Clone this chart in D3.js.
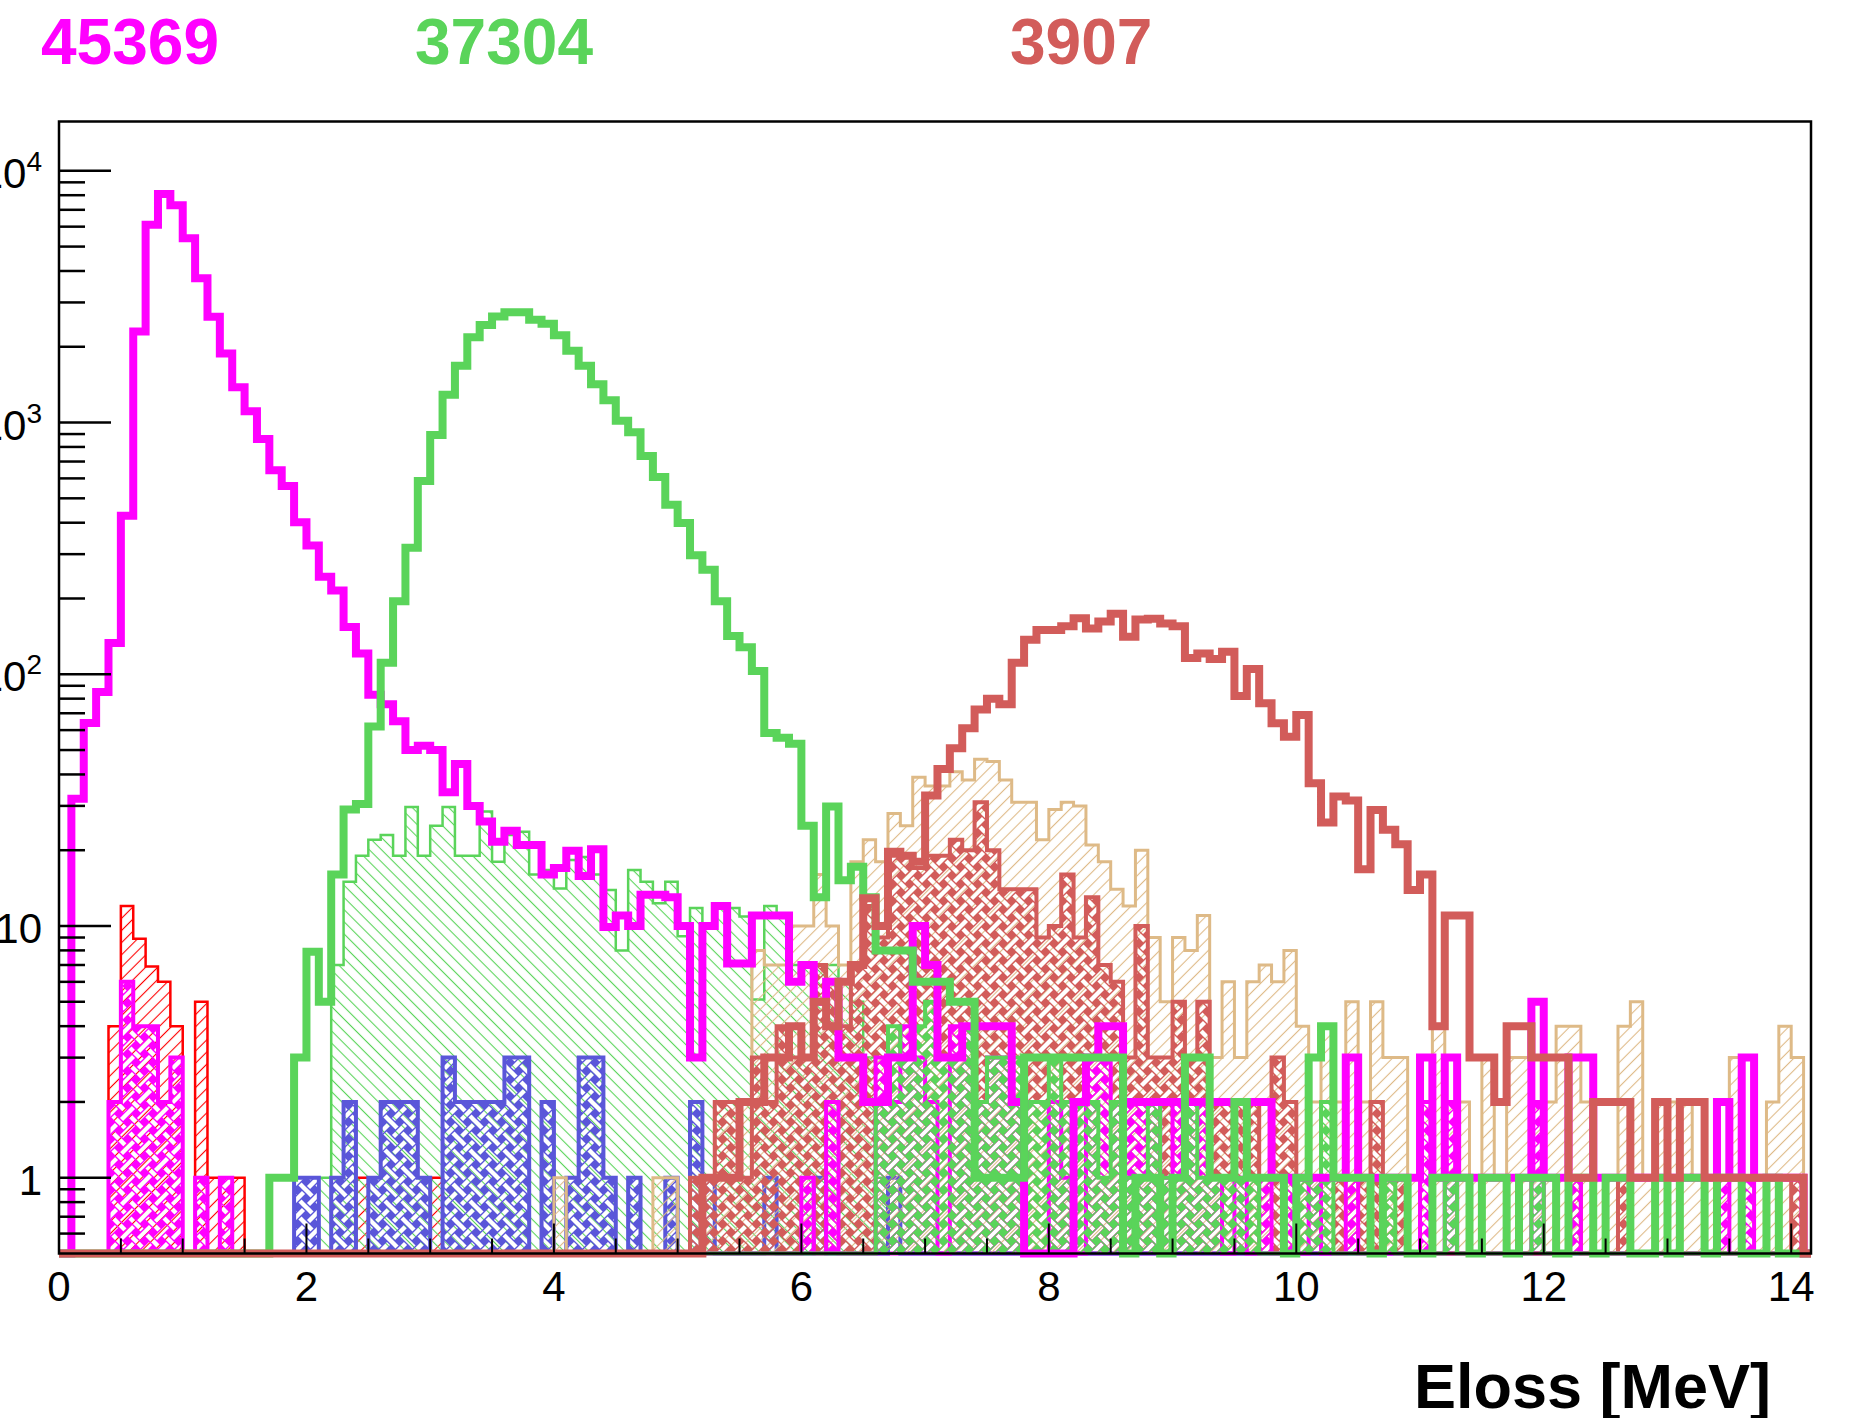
<!DOCTYPE html>
<html><head><meta charset="utf-8">
<script src="https://cdn.jsdelivr.net/npm/d3@7"></script>
<style>body{margin:0;background:#fff}svg{display:block}</style>
</head><body>
<svg id="chart" width="1849" height="1418"></svg>
<script>
// ---------------- DATA (bin width 0.1 MeV, bin i = [0.1*i, 0.1*i+0.1]) ----------------
const BIN = 0.1;
const N_BINS = 142;
const xTickValues = [0, 2, 4, 6, 8, 10, 12, 14];
const yTickValues = [1, 10, 100, 1000, 10000];
const yTickLabels = ["1", "10", "10|2", "10|3", "10|4"];
const titleTexts = ["45369", "37304", "3907"];
const xTitle = "Eloss [MeV]";

// thick outlines (totals), first bin 0
const magentaTotal = [0,32,64,85,133,426,2300,6100,8080,7300,
 5400,3740,2630,1880,1380,1110,861,647,560,402,
 325,244,215,154,121,83,76,65,50,52,
 50,34,44,30,26,21.6,23.9,21,21,16,
 17,19.9,15.8,20.2,9.9,11,10,13.3,13.3,13,
 10,3,10,12,7.1,7.1,11,11,11,6,
 7,5,6,3,3,2,2,3,3,10,
 7,3,3,4,4,4,4,2,0,0,
 0,0,2,3,4,4,2,2,2,2,
 2,2,2,2,2,2,2,2,1,1,
 1,1,1,1,3,1,1,1,1,1,
 3,1,3,1,1,1,1,1,1,5,
 1,1,3,3,1,1,1,1,1,1,
 1,1,1,1,2,1,3,1,1,1,
 1,0];
const greenTotalFirst = 17;
const greenTotal = [1,1,3,
 7.9,5,16,29,30.5,62,111,195,318,586,
 893,1290,1680,2180,2440,2640,2740,2740,2560,2470,
 2220,1930,1680,1420,1225,1016,914,736,608,471,
 399,297,260,195,142,128,103,58.5,56,53,
 25,13,29.8,15.2,17.2,13,8,8,8,6,
 6,6,5,5,1,1,1,1,3,3,
 3,3,3,3,3,3,0,1,1,0,
 1,3,3,1,1,2,1,1,1,0,
 1,3,4,1,1,1,0,1,1,0,
 0,1,1,1,0,1,1,0,1,1,
 1,0,1,1,0,1,1,0,0,1,
 0,1,1,0,1,1,0,0,1,0,
 0,0];
const redTotalFirst = 52;
const redTotal = [1,1,1,2,2,3,3,4,
 3,5,4,6,7,12.9,10,19.7,19,18,
 33,42,50.8,61,72.5,80,76,111,137,150,
 150,155,167,152,162,174,141,165,166,159,
 155,116,121,115,123,82,105,76.7,63.9,56.5,
 68.9,36.9,25.8,32.7,31.5,16.8,28.9,24.1,21.1,13.9,
 16,4,11,11,3,3,2,4,4,3,
 3,3,1,1,2,2,2,1,1,2,
 1,2,2,1,1,1,1,1,1,1,
 1,0];

// filled sub-samples
const redHatchFirst = 4;
const redHatch = [4,12,8.9,6.9,6,4,0,5,1,1,1,0,0,0,0,0,0,0,0,0,1,0,0,0,0,0,1];
const magentaWeaveLowFirst = 4;
const magentaWeaveLow = [2,6,4,4,2,3,0,1,0,1];
const magentaWeaveHighFirst = 60;
const magentaWeaveHigh = [1,0,2,0,0,0,3,2,4,3,
 2,0,4,4,2,3,3,2,0,0,
 2,1,0,3,3,2,2,2,2,1,
 2,2,2,1,0,1,0,1,0,1,
 0,1,0,0,1,0,0,0,0,0,
 2,0,2,0,0,0,0,0,0,2,
 0,0,1,0,0,0,0,0,0,0,
 0,0,0,0,1,0,1];
const greenHatchFirst = 21;
const greenHatch = [1,7,15,19,22,23,19,29.7,19,
 25,29.7,19,19,28.5,18,23,23.7,16,16.7,
 14.1,18.3,18.8,16,13.9,8,16.7,15,12.3,15,
 9.1,11.8,10.2,11.8,11.8,10.9,5.1,12,11,7,
 7,7,7,6,5,3,1];
const blueWeaveFirst = 19;
const blueWeave = [1,
 1,0,1,2,0,1,2,2,2,1,
 0,3,2,2,2,2,3,3,0,2,
 0,1,3,3,1,0,1,0,0,1,
 0,2,1,0,0,0,0,1,0,0,
 0,1,0,0,0,0,0,1];
const tanHatchFirst = 40;
const tanHatch = [1,0,0,0,0,0,0,0,1,1,
 0,0,1,2,2,2,8,7,7,10,
 10,16,10,7,18,22,18,28,25,39,
 36,36,41,38,46,45,38,31,31,22,
 29,31,30,21,18,14,12,20,9,5,
 9,8,11,3,6,3,6,7,6,8,
 4,2,4,2,5,2,5,3,3,1,
 2,4,2,2,1,3,1,3,3,2,
 2,4,4,2,1,1,4,5,1,2,
 2,2,1,1,1,3,1,1,2,4,
 3];
const redWeaveFirst = 51;
const redWeave = [1,1,2,2,1,3,2,4,3,
 3,7,6,4,7,12,9,19,19,17,
 19,19,22,20,31,20,14,14,14,9,
 10,16,9,13,7,6,3,10,3,3,
 5,3,5,2,2,2,2,1,3,2,
 1,1,1,1,1,1,2,1,1,0,
 0,0,0,0,0,0,0,0,0,0,
 0,0,1,0,0,0,1,0,0,0,
 0,0,0,0,0,0,0,0,0,0,
 1];
const greenWeaveFirst = 66;
const greenWeave = [2,4,3,4,
 5,3,3,4,2,3,3,3,2,2,
 3,2,2,2,1,2,1,1,2,1,
 1,2,1,1,1,1,1,0,0,0,
 1,1,2,0,0,0,0,1,0,0,
 0,0,1,0,0,0,0,0,0,1];

// ---------------- CHART ----------------
const COL = {
  magenta: "#ff00ff", green: "#5ad45a", red46: "#d25c5a",
  blue: "#5a56d9", tan: "#deba87", red: "#ff0000"
};
const FONT = "'Liberation Sans', Arial, Helvetica, sans-serif";

const svg = d3.select("#chart");
const frame = {left: 59, right: 1811, top: 121.5, bottom: 1253.5};
const yMin = 0.5, yMax = 15700;
const x = d3.scaleLinear().domain([0, 14.16]).range([frame.left, frame.right]);
const y = d3.scaleLog().domain([yMin, yMax]).range([frame.bottom, frame.top]);

function fullBins(first, values) {
  const a = new Array(N_BINS).fill(0);
  values.forEach((v, i) => { if (first + i < N_BINS) a[first + i] = v; });
  return a;
}
function stepPoints(vals) {
  const pts = [[0, 0]];
  vals.forEach((v, i) => { pts.push([i * BIN, v]); pts.push([(i + 1) * BIN, v]); });
  pts.push([vals.length * BIN, 0]);
  return pts;
}
const yv = v => (v > yMin ? y(v) : y(yMin));
const stepLine = d3.line().x(d => x(d[0])).y(d => yv(d[1]));

// defs: patterns
const defs = svg.append("defs");
defs.append("clipPath").attr("id", "plotClip")
  .append("rect").attr("x", frame.left).attr("y", 0)
  .attr("width", frame.right - frame.left).attr("height", 1418);

function hatch(id, color, angle) {
  const s = 8.6;
  const p = defs.append("pattern").attr("id", id).attr("patternUnits", "userSpaceOnUse")
    .attr("width", s).attr("height", s).attr("patternTransform", `rotate(${angle})`);
  p.append("line").attr("x1", s / 2).attr("y1", -1).attr("x2", s / 2).attr("y2", s + 1)
    .attr("stroke", color).attr("stroke-width", 1.1);
}
hatch("hatchRed", COL.red, 45);
hatch("hatchGreen", COL.green, -45);
hatch("hatchTan", COL.tan, 45);

// weave pattern: coloured tile with white interlaced diagonal bands (transparent)
const T = 17, BAND = 4.4, G = 2.5, H = T / 2;
const mask = defs.append("mask").attr("id", "weaveMask")
  .attr("maskUnits", "userSpaceOnUse").attr("x", 0).attr("y", 0).attr("width", T).attr("height", T);
mask.append("rect").attr("width", T).attr("height", T).attr("fill", "#fff");
[[-1, -1, H - G, H - G], [H + G, H + G, T + 1, T + 1], [T - G, G, G, T - G],
 [T - 5, -5, T + 5, 5], [-5, T - 5, 5, T + 5]].forEach(s => {
  mask.append("line").attr("x1", s[0]).attr("y1", s[1]).attr("x2", s[2]).attr("y2", s[3])
    .attr("stroke", "#000").attr("stroke-width", BAND);
});
function weave(id, color) {
  const p = defs.append("pattern").attr("id", id).attr("patternUnits", "userSpaceOnUse")
    .attr("width", T).attr("height", T);
  p.append("rect").attr("width", T).attr("height", T).attr("fill", color).attr("mask", "url(#weaveMask)");
}
weave("weaveMagenta", COL.magenta);
weave("weaveBlue", COL.blue);
weave("weaveRed", COL.red46);
weave("weaveGreen", COL.green);

const plot = svg.append("g").attr("clip-path", "url(#plotClip)");

function drawFilled(vals, fill, stroke, sw) {
  const pts = stepPoints(vals);
  plot.append("path").attr("d", stepLine(pts) + "Z").attr("fill", fill).attr("stroke", "none");
  plot.append("path").attr("d", stepLine(pts)).attr("fill", "none")
    .attr("stroke", stroke).attr("stroke-width", sw).attr("stroke-linejoin", "miter");
}
function drawThick(vals, stroke) {
  plot.append("path").attr("d", stepLine(stepPoints(vals))).attr("fill", "none")
    .attr("stroke", stroke).attr("stroke-width", 8).attr("stroke-linejoin", "miter")
    .attr("stroke-miterlimit", 4);
}

drawFilled(fullBins(redHatchFirst, redHatch), "url(#hatchRed)", COL.red, 2.5);
drawFilled(fullBins(magentaWeaveLowFirst, magentaWeaveLow), "url(#weaveMagenta)", COL.magenta, 4);
drawFilled(fullBins(greenHatchFirst, greenHatch), "url(#hatchGreen)", COL.green, 2.5);
drawFilled(fullBins(blueWeaveFirst, blueWeave), "url(#weaveBlue)", COL.blue, 4);
drawFilled(fullBins(tanHatchFirst, tanHatch), "url(#hatchTan)", COL.tan, 3);
drawFilled(fullBins(redWeaveFirst, redWeave), "url(#weaveRed)", COL.red46, 4);
drawFilled(fullBins(magentaWeaveHighFirst, magentaWeaveHigh), "url(#weaveMagenta)", COL.magenta, 4);
drawFilled(fullBins(greenWeaveFirst, greenWeave), "url(#weaveGreen)", COL.green, 4);

drawThick(fullBins(0, magentaTotal), COL.magenta);
drawThick(fullBins(greenTotalFirst, greenTotal), COL.green);
drawThick(fullBins(redTotalFirst, redTotal), COL.red46);

// ---------------- AXES ----------------
const ax = svg.append("g");
ax.append("rect").attr("x", frame.left).attr("y", frame.top)
  .attr("width", frame.right - frame.left).attr("height", frame.bottom - frame.top)
  .attr("fill", "none").attr("stroke", "#000").attr("stroke-width", 2.5);

// y ticks
y.ticks().filter(t => t > yMin && t < yMax).forEach(t => {
  const major = yTickValues.includes(t);
  ax.append("line").attr("x1", frame.left).attr("x2", frame.left + (major ? 52 : 26))
    .attr("y1", y(t)).attr("y2", y(t)).attr("stroke", "#000").attr("stroke-width", 2.5);
});
yTickValues.forEach((t, i) => {
  const parts = yTickLabels[i].split("|");
  const txt = ax.append("text").attr("x", 42).attr("y", y(t) + 17)
    .attr("text-anchor", "end").attr("font-family", FONT).attr("font-size", 42).attr("fill", "#000");
  txt.append("tspan").text(parts[0]);
  if (parts[1]) txt.append("tspan").attr("dy", -17).attr("font-size", 28).text(parts[1]);
});

// x ticks
d3.range(0, 14.01, 0.5).forEach(t => {
  const major = xTickValues.includes(t);
  ax.append("line").attr("x1", x(t)).attr("x2", x(t))
    .attr("y1", frame.bottom).attr("y2", frame.bottom - (major ? 30 : 15))
    .attr("stroke", "#000").attr("stroke-width", 2);
});
xTickValues.forEach(t => {
  ax.append("text").attr("x", x(t)).attr("y", 1301).attr("text-anchor", "middle")
    .attr("font-family", FONT).attr("font-size", 42).attr("fill", "#000").text(t);
});

ax.append("text").attr("x", 1771).attr("y", 1408).attr("text-anchor", "end")
  .attr("font-family", FONT).attr("font-weight", "bold").attr("font-size", 63)
  .attr("fill", "#000").text(xTitle);

// titles (entries)
const titleX = [41, 415, 1010];
const titleCol = [COL.magenta, COL.green, COL.red46];
titleTexts.forEach((t, i) => {
  svg.append("text").attr("x", titleX[i]).attr("y", 64)
    .attr("font-family", FONT).attr("font-weight", "bold").attr("font-size", 64)
    .attr("fill", titleCol[i]).text(t);
});
</script>
</body></html>
